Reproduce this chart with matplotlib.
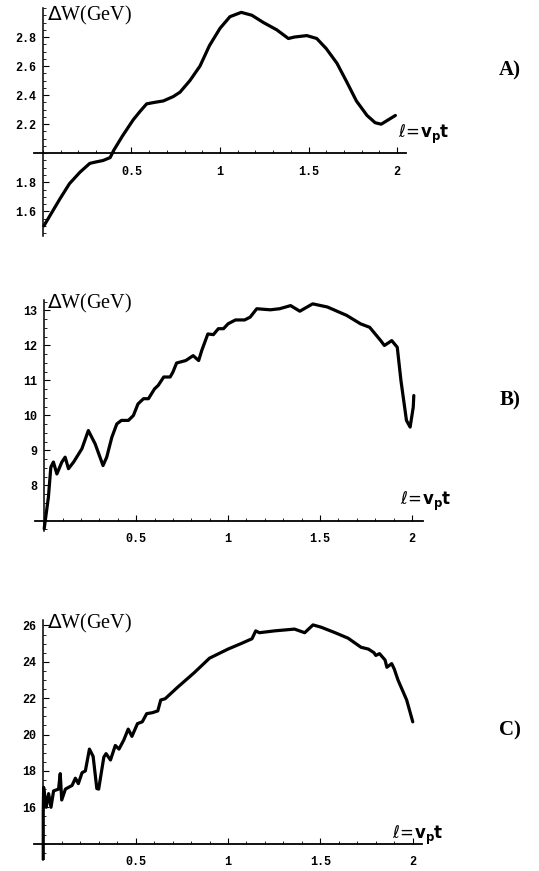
import numpy as np
import matplotlib.pyplot as plt
from matplotlib.ticker import MultipleLocator

# -------------------- Data --------------------
xa = [0.006, 0.04, 0.096, 0.15, 0.21, 0.265, 0.30, 0.34, 0.38, 0.40, 0.45, 0.51, 0.55,
      0.586, 0.63, 0.68, 0.736, 0.774, 0.83, 0.887, 0.94, 1.0, 1.056, 1.12, 1.18, 1.245,
      1.32, 1.386, 1.42, 1.49, 1.546, 1.60, 1.66, 1.716, 1.77, 1.83, 1.876, 1.91, 1.95, 1.99]
ya = [1.50, 1.57, 1.685, 1.79, 1.87, 1.93, 1.94, 1.95, 1.97, 2.02, 2.12, 2.23, 2.29,
      2.34, 2.35, 2.36, 2.39, 2.42, 2.50, 2.60, 2.74, 2.86, 2.94, 2.97, 2.95, 2.90,
      2.85, 2.79, 2.80, 2.81, 2.79, 2.72, 2.62, 2.49, 2.36, 2.26, 2.21, 2.20, 2.23, 2.26]

xb = [0.0, 0.023, 0.036, 0.05, 0.069, 0.096, 0.114, 0.132, 0.16, 0.205, 0.24, 0.277, 0.32,
      0.34, 0.368, 0.395, 0.42, 0.458, 0.485, 0.51, 0.54, 0.567, 0.60, 0.62, 0.65, 0.685,
      0.70, 0.72, 0.77, 0.81, 0.84, 0.857, 0.89, 0.92, 0.947, 0.975, 1.0, 1.04, 1.09, 1.12,
      1.156, 1.23, 1.28, 1.34, 1.39, 1.46, 1.54, 1.645, 1.72, 1.77, 1.83, 1.85, 1.89, 1.92,
      1.94, 1.97, 1.99, 2.007, 2.01]
yb = [6.77, 7.67, 8.52, 8.67, 8.33, 8.67, 8.81, 8.48, 8.67, 9.05, 9.57, 9.19, 8.57,
      8.81, 9.38, 9.76, 9.86, 9.86, 10.0, 10.33, 10.48, 10.48, 10.76, 10.86, 11.1, 11.1,
      11.24, 11.5, 11.57, 11.71, 11.57, 11.86, 12.33, 12.31, 12.48, 12.48, 12.62, 12.73, 12.73, 12.81,
      13.05, 13.02, 13.05, 13.14, 12.98, 13.19, 13.1, 12.86, 12.62, 12.52, 12.14, 12.0, 12.14, 11.95,
      11.0, 9.86, 9.67, 10.24, 10.57]

xc = [0.0, 0.0, 0.002, 0.016, 0.029, 0.042, 0.056, 0.083, 0.092, 0.10, 0.12, 0.156, 0.174,
      0.19, 0.21, 0.228, 0.25, 0.27, 0.29, 0.30, 0.328, 0.34, 0.364, 0.39, 0.41, 0.436,
      0.46, 0.48, 0.51, 0.536, 0.56, 0.59, 0.62, 0.636, 0.66, 0.727, 0.817, 0.90, 1.0,
      1.07, 1.13, 1.15, 1.17, 1.25, 1.36, 1.415, 1.46, 1.505, 1.58, 1.65, 1.72, 1.76,
      1.79, 1.80, 1.82, 1.85, 1.86, 1.886, 1.90, 1.92, 1.967, 2.0]
yc = [13.1, 15.7, 17.1, 16.0, 16.75, 16.0, 16.9, 17.0, 17.85, 16.4, 17.0, 17.2, 17.6,
      17.3, 17.9, 18.0, 19.2, 18.8, 17.03, 17.0, 18.76, 18.95, 18.6, 19.4, 19.2, 19.7,
      20.3, 19.9, 20.6, 20.7, 21.15, 21.2, 21.3, 21.9, 21.97, 22.6, 23.4, 24.2, 24.7,
      25.0, 25.27, 25.7, 25.6, 25.7, 25.8, 25.6, 26.03, 25.9, 25.6, 25.3, 24.8, 24.7,
      24.5, 24.35, 24.45, 24.1, 23.7, 23.9, 23.6, 23.0, 21.9, 20.7]

xticks = [0.5, 1, 1.5, 2]
xtick_labels = ['0.5', '1', '1.5', '2']
yticks_a = [1.6, 1.8, 2.2, 2.4, 2.6, 2.8]
yticks_b = [8, 9, 10, 11, 12, 13]
yticks_c = [16, 18, 20, 22, 24, 26]

W, H = 539, 871
fig = plt.figure(figsize=(W / 100, H / 100), dpi=100)

tick_font = dict(family='Liberation Mono', weight='bold', size=8.5)


def px_axes(left, top, right, bottom):
    return fig.add_axes([left / W, 1 - bottom / H, (right - left) / W, (bottom - top) / H])


# -------------------- Function to draw one panel --------------------
def panel(box, x, y, xlim, ylim, ycross, yticks, yfmt, yminor, labels):
    ax = px_axes(*box)
    ax.plot(x, y, color='black', linewidth=2.3, solid_capstyle='round', solid_joinstyle='round')
    ax.set_xlim(*xlim)
    ax.set_ylim(*ylim)
    for s in ['top', 'right']:
        ax.spines[s].set_visible(False)
    ax.spines['left'].set_position(('data', 0))
    ax.spines['bottom'].set_position(('data', ycross))
    ax.spines['left'].set_linewidth(1.1)
    ax.spines['bottom'].set_linewidth(1.3)
    ax.set_xticks(xticks)
    ax.set_xticklabels(xtick_labels, fontdict=tick_font)
    ax.set_yticks(yticks)
    ax.set_yticklabels([yfmt.format(v) for v in yticks], fontdict=tick_font)
    ax.xaxis.set_minor_locator(MultipleLocator(0.1))
    ax.yaxis.set_minor_locator(MultipleLocator(yminor))
    ax.tick_params(which='major', direction='in', length=4, width=0.8, pad=5)
    ax.tick_params(which='minor', direction='in', length=2, width=0.6)
    ax.tick_params(axis='x', which='major', pad=9)
    ax.patch.set_visible(False)

    ylab, llab, plab = labels
    fig.text(ylab[0] / W, 1 - ylab[1] / H, r'$\Delta$W(GeV)', family='Liberation Serif',
             fontsize=14.5, ha='left', va='center')
    fig.text(llab[0] / W, 1 - llab[1] / H, r'$\ell\!=\!\mathbf{v_p t}$', fontsize=12,
             ha='left', va='center')
    fig.text(plab[0] / W, 1 - plab[1] / H, plab[2], family='Liberation Serif', weight='bold',
             fontsize=15, ha='center', va='center')
    return ax


panel((34, 8, 406, 236), xa, ya, (-0.05, 2.05), (1.43, 3.0), 2.0, yticks_a, '{:.1f}', 0.05,
      ((47, 15), (398, 134), (510, 70, 'A)')))
panel((35, 300, 423, 531), xb, yb, (-0.05, 2.06), (6.7, 13.3), 7.0, yticks_b, '{:.0f}', 0.25,
      ((47, 303), (400, 501), (510, 400, 'B)')))
panel((34, 620, 422, 860), xc, yc, (-0.05, 2.05), (13.1, 26.3), 14.0, yticks_c, '{:.0f}', 0.5,
      ((47, 623), (392, 835), (510, 730, 'C)')))

plt.savefig('out.png', dpi=100)
